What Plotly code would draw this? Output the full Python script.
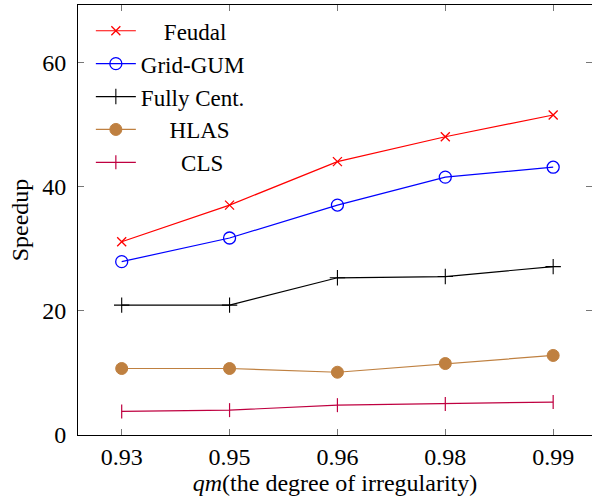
import plotly.graph_objects as go

categories = ["0.93", "0.95", "0.96", "0.98", "0.99"]
feudal = [31.1, 37.0, 44.0, 48.0, 51.5]
grid_gum = [27.9, 31.7, 37.0, 41.5, 43.1]
fully_cent = [20.9, 20.9, 25.3, 25.5, 27.1]
hlas = [10.7, 10.7, 10.1, 11.5, 12.8]
cls = [3.8, 4.0, 4.8, 5.0, 5.3]
y_ticks = [0, 20, 40, 60]

FONT = "Liberation Serif"
FS = 24
NB = "\u00a0"

series = [
    ("Feudal", feudal, "#ff0000", "x-thin", 9, 1.3, 4),
    ("Grid-GUM", grid_gum, "#0000ff", "circle-open", 12, 1.3, 0),
    ("Fully Cent.", fully_cent, "#000000", "cross-thin", 11, 1.1, 0),
    ("HLAS", hlas, "#bf8040", "circle", 12, 1.0, 5),
    ("CLS", cls, "#bf0040", "line-ns", 10, 1.2, 7),
]

fig = go.Figure()
for name, vals, color, sym, size, mlw, pad in series:
    fig.add_trace(go.Scatter(
        x=categories, y=vals, mode="lines+markers",
        name=NB * pad + name,
        line=dict(color=color, width=1.2),
        marker=dict(symbol=sym, size=size, color=color,
                    line=dict(color=color, width=mlw)),
    ))

fig.update_layout(
    width=592, height=503,
    margin=dict(l=78, r=0, t=5, b=68),
    paper_bgcolor="white", plot_bgcolor="white",
    font=dict(family=FONT, size=FS, color="black"),
    showlegend=True,
    legend=dict(x=0.025, y=0.99, xanchor="left", yanchor="top",
                bgcolor="rgba(0,0,0,0)", borderwidth=0,
                font=dict(family=FONT, size=23), itemwidth=40,
                tracegroupgap=0),
    xaxis=dict(
        type="category", range=[-0.405, 4.36], automargin=False,
        showline=True, linecolor="black", linewidth=1, mirror="allticks",
        ticks="inside", ticklen=6, tickcolor="#777", tickwidth=1,
        showgrid=False, zeroline=False,
        tickfont=dict(family=FONT, size=FS),
        title=dict(text="<i>qm</i>(the degree of irregularity)",
                   font=dict(family=FONT, size=FS), standoff=4),
    ),
    yaxis=dict(
        range=[0, 69.2], tickvals=y_ticks, automargin=False,
        showline=True, linecolor="black", linewidth=1, mirror="allticks",
        ticks="inside", ticklen=6, tickcolor="#777", tickwidth=1,
        showgrid=False, zeroline=False,
        ticklabelstandoff=6,
        tickfont=dict(family=FONT, size=FS),
        title=dict(text="Speedup", font=dict(family=FONT, size=FS), standoff=6),
    ),
)

fig.write_html(
    "out.html",
    config={"displayModeBar": False},
    post_script="document.body.style.margin='0';document.body.style.overflow='hidden';",
)
